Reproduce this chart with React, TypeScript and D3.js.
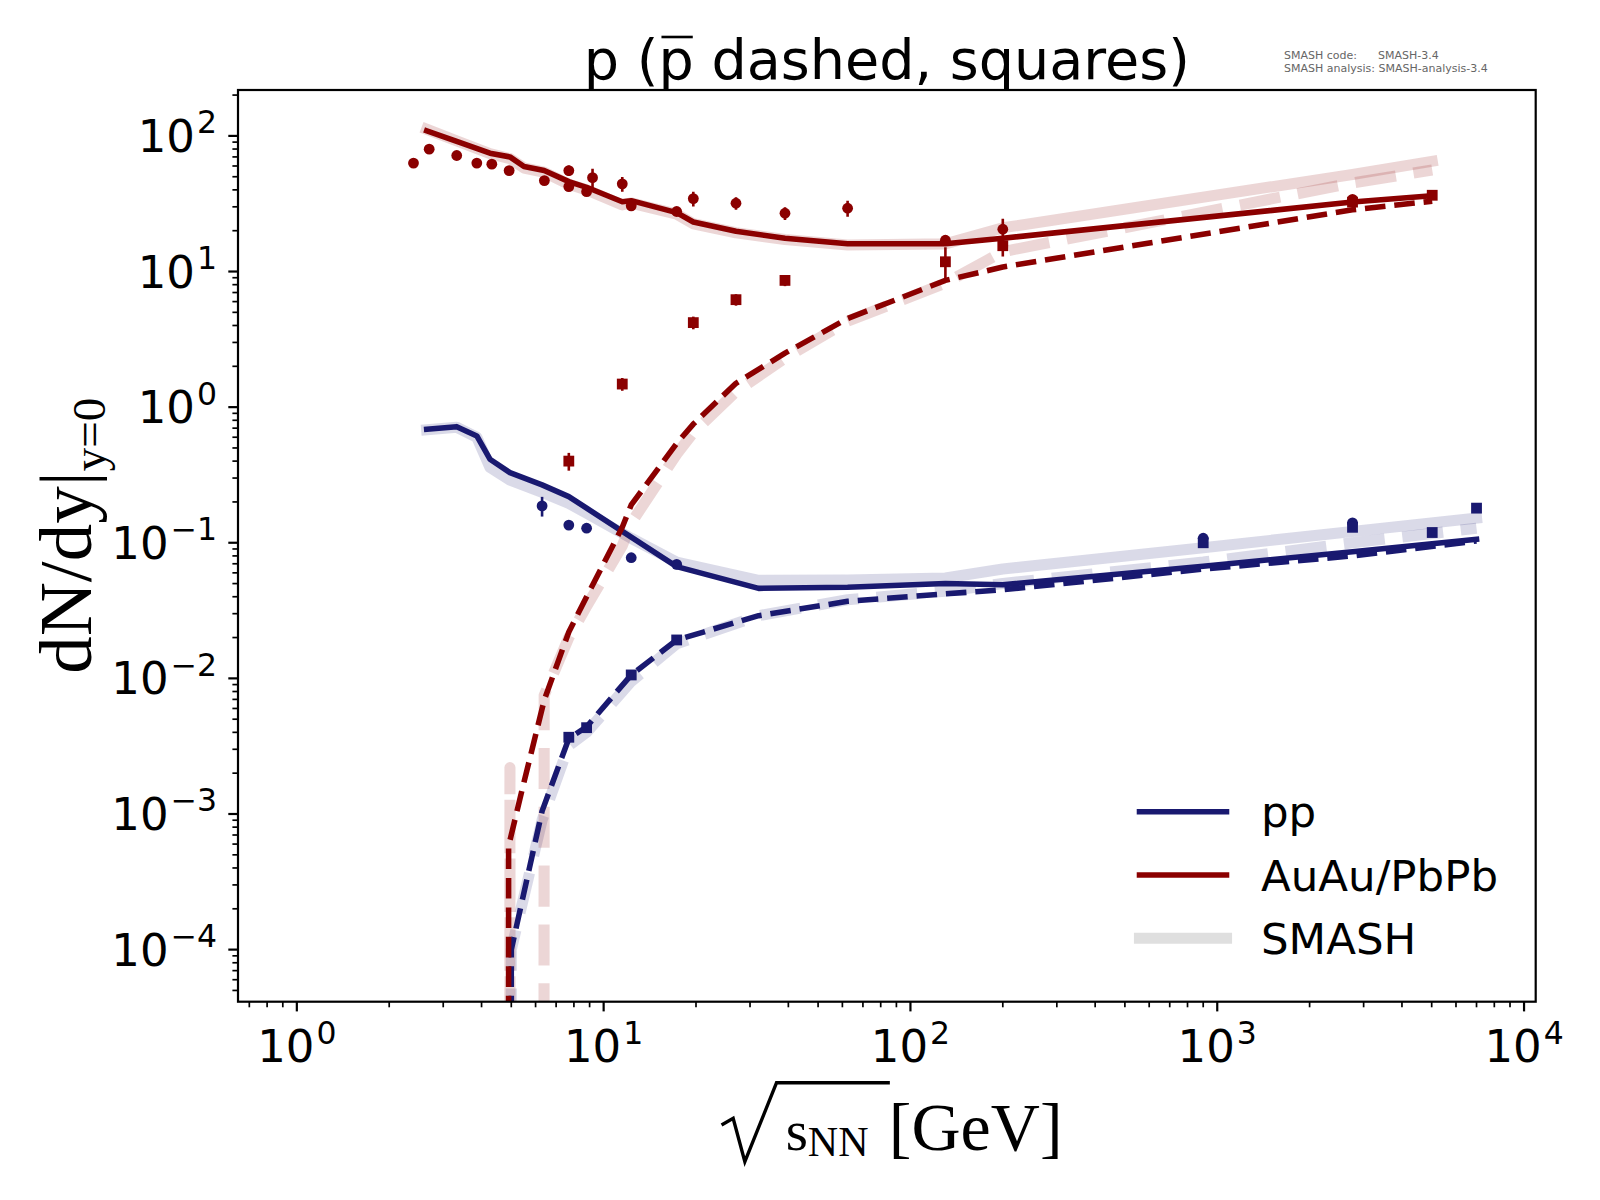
import { useLayoutEffect, useRef, useState } from 'react';
import * as d3 from 'd3';

const WIDTH = 1600;
const HEIGHT = 1200;
const AX = { left: 238, right: 1535.7, top: 90, bottom: 1001.7 };
const X_DOMAIN: [number, number] = [0.643, 10914];
const Y_DOMAIN: [number, number] = [4.13e-5, 218];

const NAVY = '#191970';
const DARKRED = '#8b0000';
const SANS = 'DejaVu Sans';
const SERIF = 'Liberation Serif';

// pp, proton (solid)
const ppE = [2.65, 3.32, 3.86, 4.26, 4.95, 6.3, 7.7, 8.8, 12.3, 17.3, 32, 62.4, 130, 200, 900, 2760, 7000];
const ppProton = [0.687, 0.718, 0.613, 0.413, 0.329, 0.267, 0.219, 0.18, 0.11, 0.0667, 0.0461, 0.047, 0.05, 0.049, 0.067, 0.086, 0.106];
const ppProtonSmash = [0.68, 0.71, 0.6, 0.36, 0.29, 0.235, 0.195, 0.165, 0.108, 0.072, 0.0528, 0.053, 0.055, 0.064, 0.092, 0.121, 0.152];

// pp, antiproton (dashed); 0 = no yield (clipped on the log axis)
const ppAntiE = [4.9, 5.0, 6.3, 7.7, 8.8, 12.3, 17.3, 32, 62.4, 130, 200, 900, 2760, 7000];
const ppAnti = [0, 1.0e-4, 1.05e-3, 3.6e-3, 4.4e-3, 0.0106, 0.0192, 0.029, 0.037, 0.042, 0.045, 0.064, 0.08, 0.103];
const ppAntiSmash = [0, 1.0e-4, 9.0e-4, 3.2e-3, 4.0e-3, 0.0095, 0.018, 0.029, 0.038, 0.044, 0.05, 0.072, 0.1, 0.128];

// AuAu/PbPb, proton (solid)
const aaE = [2.65, 3.32, 4.26, 4.95, 5.5, 6.4, 7.7, 8.8, 11.5, 12.3, 17.3, 19.6, 27, 39, 62.4, 130, 200, 2760, 5020];
const aaProton = [109, 91, 74.5, 70, 59.4, 55.5, 46, 41.8, 32.7, 33.3, 27.2, 23.2, 19.8, 17.6, 16.0, 16.0, 17.6, 32.5, 36.2];
const aaProtonSmash = [112, 92, 74, 68, 58, 54, 44, 40, 31, 32, 26.5, 22.5, 19.3, 17.2, 15.7, 16.0, 21, 52, 65];

// AuAu/PbPb, antiproton (dashed)
const aaAntiE = [4.85, 4.9, 5.4, 6.4, 7.7, 8.8, 11.5, 12.3, 17.3, 19.6, 27, 39, 62.4, 130, 200, 2760, 5020];
const aaAnti = [0, 5.8e-4, 1.45e-3, 6.9e-3, 0.022, 0.04, 0.13, 0.19, 0.54, 0.75, 1.5, 2.5, 4.5, 8.6, 10.8, 28.5, 33];
const aaAntiSmashE = [4.3, 4.95, 5.5, 6.4, 7.7, 8.8, 11.5, 12.3, 17.3, 19.6, 27, 39, 62.4, 130, 200, 2760, 5020];
const aaAntiSmash = [0, 2.2e-3, 0, 7.5e-3, 0.02, 0.034, 0.095, 0.14, 0.45, 0.65, 1.3, 2.3, 4.3, 8.2, 14, 45, 56];

// measured data: AuAu/PbPb protons (dots)
const aaDataE = [2.4, 2.7, 3.32, 3.86, 4.32, 4.92, 6.41, 7.7, 7.7, 8.8, 9.2, 11.5, 12.3, 17.3, 19.6, 27, 39, 62.4, 130, 200, 2760];
const aaData = [63, 79.8, 71.7, 63, 61.9, 55.5, 46.8, 55.5, 42.3, 38.8, 49.2, 44.3, 30.5, 27.7, 34.5, 31.9, 26.9, 29.3, 17, 20.5, 34];
const aaDataErr = [0, 0, 0, 0, 0, 0, 0, 4.9, 0, 0, 8, 5.5, 0, 0, 4.3, 3.4, 2.9, 4, 1.5, 4, 0];

// measured data: AuAu/PbPb antiprotons (squares)
const aaAntiDataE = [7.7, 11.5, 19.6, 27, 39, 130, 200, 2760, 5020];
const aaAntiData = [0.4, 1.48, 4.2, 6.2, 8.6, 11.8, 15.5, 32.5, 36.5];
const aaAntiDataErr = [0.06, 0.16, 0.45, 0.6, 0.8, 3.3, 2.6, 1.5, 1.5];

// measured data: pp protons (dots) and antiprotons (squares)
const ppDataE = [6.3, 7.7, 8.8, 12.3, 17.3, 900, 2760];
const ppData = [0.187, 0.135, 0.128, 0.0776, 0.0693, 0.108, 0.14];
const ppDataErr = [0.031, 0, 0, 0, 0, 0, 0];
const ppAntiDataE = [7.7, 8.8, 12.3, 17.3, 900, 2760, 5020, 7000];
const ppAntiData = [3.68e-3, 4.33e-3, 0.0106, 0.0192, 0.1, 0.13, 0.119, 0.18];

const legendItems = ['pp', 'AuAu/PbPb', 'SMASH'];
const legendColors = [NAVY, DARKRED, 'gray'];

const LW = 5.56; // 2pt @ 200dpi
const LW_SMASH = 11.1; // 4pt @ 200dpi
const TICK_FS = 45;
const LEGEND_FS = 43.5;

function minorTicks([d0, d1]: [number, number]) {
  const out: number[] = [];
  for (let e = Math.floor(Math.log10(d0)); e <= Math.ceil(Math.log10(d1)); e++) {
    for (let k = 2; k <= 9; k++) {
      const v = k * Math.pow(10, e);
      if (v >= d0 && v <= d1) out.push(v);
    }
  }
  return out;
}

function majorTicks([d0, d1]: [number, number]) {
  const out: number[] = [];
  for (let e = Math.ceil(Math.log10(d0)); e <= Math.floor(Math.log10(d1)); e++) out.push(Math.pow(10, e));
  return out;
}

function expLabel(v: number) {
  const e = Math.round(Math.log10(v));
  return e < 0 ? `\u2212${-e}` : `${e}`;
}

export default function App() {
  const titleRef = useRef<SVGTextElement>(null);
  const [bar, setBar] = useState<[number, number] | null>(null);

  useLayoutEffect(() => {
    const t = titleRef.current;
    if (!t) return;
    const s = t.getStartPositionOfChar(3);
    const e = t.getEndPositionOfChar(3);
    setBar([s.x, e.x]);
  }, []);

  const x = d3.scaleLog().domain(X_DOMAIN).range([AX.left, AX.right]);
  const y = d3.scaleLog().domain(Y_DOMAIN).range([AX.bottom, AX.top]);
  // non-positive values get pushed far below the axis, like matplotlib's clip
  const yv = (v: number) => y(Math.max(v, 1e-300));

  const path = (xs: number[], ys: number[]) =>
    d3
      .line<number>()
      .x((_, i) => x(xs[i]))
      .y((d) => yv(d))(ys) ?? '';

  const cx = (AX.left + AX.right) / 2;
  const cy = (AX.top + AX.bottom) / 2;

  const smashLines = [
    { xs: ppE, ys: ppProtonSmash, color: NAVY, dashed: false },
    { xs: ppAntiE, ys: ppAntiSmash, color: NAVY, dashed: true },
    { xs: aaE, ys: aaProtonSmash, color: DARKRED, dashed: false },
    { xs: aaAntiSmashE, ys: aaAntiSmash, color: DARKRED, dashed: true },
  ];
  const lines = [
    { xs: ppE, ys: ppProton, color: NAVY, dashed: false },
    { xs: ppAntiE, ys: ppAnti, color: NAVY, dashed: true },
    { xs: aaE, ys: aaProton, color: DARKRED, dashed: false },
    { xs: aaAntiE, ys: aaAnti, color: DARKRED, dashed: true },
  ];

  const dots = [
    { xs: aaDataE, ys: aaData, err: aaDataErr, color: DARKRED },
    { xs: ppDataE, ys: ppData, err: ppDataErr, color: NAVY },
  ];
  const squares = [
    { xs: aaAntiDataE, ys: aaAntiData, err: aaAntiDataErr, color: DARKRED },
    { xs: ppAntiDataE, ys: ppAntiData, err: ppAntiData.map(() => 0), color: NAVY },
  ];

  const xMajor = majorTicks(X_DOMAIN);
  const xMinor = minorTicks(X_DOMAIN);
  const yMajor = majorTicks(Y_DOMAIN);
  const yMinor = minorTicks(Y_DOMAIN);

  const legX0 = 1139.5;
  const legX1 = 1226.5;
  const legY0 = 811.7;
  const legDy = 63.3;

  return (
    <svg width={WIDTH} height={HEIGHT} style={{ position: 'absolute', left: 0, top: 0, background: '#fff' }}>
      <defs>
        <clipPath id="axclip">
          <rect x={AX.left} y={AX.top} width={AX.right - AX.left} height={AX.bottom - AX.top} />
        </clipPath>
      </defs>
      <rect width={WIDTH} height={HEIGHT} fill="#fff" />

      <g clipPath="url(#axclip)">
        {smashLines.map((s, i) => (
          <path
            key={`s${i}`}
            d={path(s.xs, s.ys)}
            fill="none"
            stroke={s.color}
            strokeOpacity={0.16}
            strokeWidth={LW_SMASH}
            strokeLinejoin="round"
            strokeLinecap={s.dashed ? 'butt' : 'square'}
            strokeDasharray={s.dashed ? `${3.7 * LW_SMASH},${1.6 * LW_SMASH}` : undefined}
          />
        ))}
        {lines.map((s, i) => (
          <path
            key={`l${i}`}
            d={path(s.xs, s.ys)}
            fill="none"
            stroke={s.color}
            strokeWidth={LW}
            strokeLinejoin="round"
            strokeLinecap={s.dashed ? 'butt' : 'square'}
            strokeDasharray={s.dashed ? `${3.7 * LW},${1.6 * LW}` : undefined}
          />
        ))}
        {[...dots, ...squares].map((s, j) =>
          s.xs.map((e, i) =>
            s.err[i] > 0 ? (
              <line
                key={`e${j}-${i}`}
                x1={x(e)}
                x2={x(e)}
                y1={y(s.ys[i] + s.err[i])}
                y2={y(Math.max(s.ys[i] - s.err[i], 1e-6))}
                stroke={s.color}
                strokeWidth={2.6}
              />
            ) : null,
          ),
        )}
        {dots.map((s, j) =>
          s.xs.map((e, i) => <circle key={`d${j}-${i}`} cx={x(e)} cy={y(s.ys[i])} r={5.4} fill={s.color} />),
        )}
        {squares.map((s, j) =>
          s.xs.map((e, i) => (
            <rect
              key={`q${j}-${i}`}
              x={x(e) - 5.4}
              y={y(s.ys[i]) - 5.4}
              width={10.8}
              height={10.8}
              fill={s.color}
            />
          )),
        )}
      </g>

      {/* legend */}
      {legendItems.map((name, i) => {
        const ly = legY0 + i * legDy;
        const smash = name === 'SMASH';
        return (
          <g key={name}>
            <line
              x1={legX0}
              x2={legX1}
              y1={ly}
              y2={ly}
              stroke={legendColors[i]}
              strokeOpacity={smash ? 0.25 : 1}
              strokeWidth={smash ? LW_SMASH : LW}
              strokeLinecap="square"
            />
            <text x={1261} y={ly + 15.5} fontFamily={SANS} fontSize={LEGEND_FS} fill="#000">
              {name}
            </text>
          </g>
        );
      })}

      {/* axes frame */}
      <rect
        x={AX.left}
        y={AX.top}
        width={AX.right - AX.left}
        height={AX.bottom - AX.top}
        fill="none"
        stroke="#000"
        strokeWidth={2.2}
      />

      {/* x ticks */}
      {xMinor.map((v) => (
        <line key={`xm${v}`} x1={x(v)} x2={x(v)} y1={AX.bottom} y2={AX.bottom + 5.6} stroke="#000" strokeWidth={1.7} />
      ))}
      {xMajor.map((v) => (
        <g key={`xM${v}`}>
          <line x1={x(v)} x2={x(v)} y1={AX.bottom} y2={AX.bottom + 9.7} stroke="#000" strokeWidth={2.2} />
          <text x={x(v)} y={1062} textAnchor="middle" fontFamily={SANS} fontSize={TICK_FS} fill="#000">
            10
            <tspan dx={2} dy={-18.5} fontSize={TICK_FS * 0.7}>
              {expLabel(v)}
            </tspan>
          </text>
        </g>
      ))}

      {/* y ticks */}
      {yMinor.map((v) => (
        <line key={`ym${v}`} x1={AX.left - 5.6} x2={AX.left} y1={y(v)} y2={y(v)} stroke="#000" strokeWidth={1.7} />
      ))}
      {yMajor.map((v) => (
        <g key={`yM${v}`}>
          <line x1={AX.left - 9.7} x2={AX.left} y1={y(v)} y2={y(v)} stroke="#000" strokeWidth={2.2} />
          <text x={217} y={y(v) + 16} textAnchor="end" fontFamily={SANS} fontSize={TICK_FS} fill="#000">
            10
            <tspan dx={2} dy={-18.5} fontSize={TICK_FS * 0.7}>
              {expLabel(v)}
            </tspan>
          </text>
        </g>
      ))}

      {/* title */}
      <text ref={titleRef} x={cx} y={79} textAnchor="middle" fontFamily={SANS} fontSize={55.6} fill="#000">
        p (p dashed, squares)
      </text>
      {bar && <line x1={bar[0] + 3} x2={bar[1] - 1} y1={37} y2={37} stroke="#000" strokeWidth={2.6} />}

      {/* version note */}
      <g fontFamily={SANS} fontSize={11} fill="#666">
        <text x={1284} y={59}>
          SMASH code:
          <tspan x={1378}>SMASH-3.4</tspan>
        </text>
        <text x={1284} y={72.3}>
          SMASH analysis: SMASH-analysis-3.4
        </text>
      </g>

      {/* x label */}
      <g transform={`translate(${cx},1150)`} fontFamily={SERIF} fill="#000">
        <path
          d="M-165.3,-25 L-153.7,-31.7 L-142,11.7 L-110.3,-67.3 L3,-67.3"
          fill="none"
          stroke="#000"
          strokeWidth={3.4}
          strokeLinejoin="miter"
        />
        <text x={-101} y={0} fontSize={57}>
          s
        </text>
        <text x={-79} y={6} fontSize={42}>
          NN
        </text>
        <text x={2} y={0} fontSize={68}>
          [GeV]
        </text>
      </g>

      {/* y label */}
      <text
        transform={`translate(91,${cy - 10}) rotate(-90)`}
        textAnchor="middle"
        fontFamily={SERIF}
        fontSize={75}
        fill="#000"
      >
        dN/dy|
        <tspan dy={14} fontSize={47}>
          y=0
        </tspan>
      </text>
    </svg>
  );
}
